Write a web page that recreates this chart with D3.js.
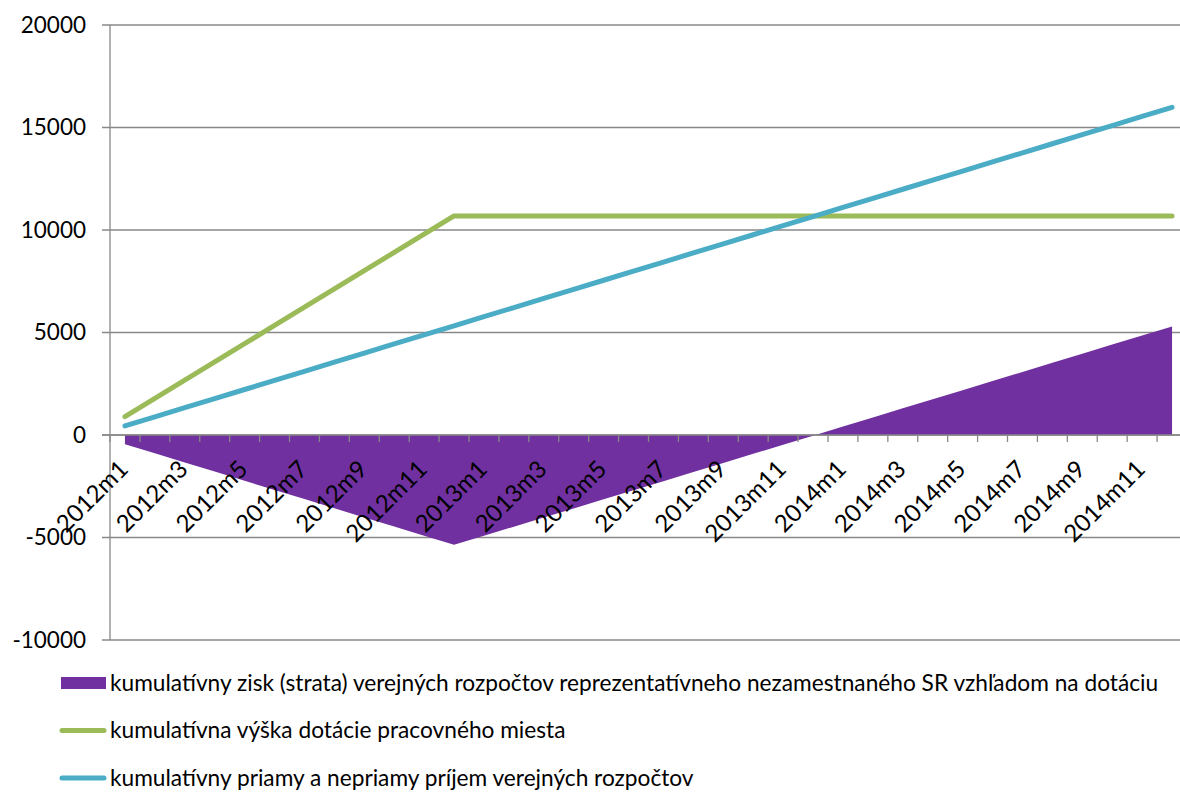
<!DOCTYPE html>
<html>
<head>
<meta charset="utf-8">
<script src="https://cdn.jsdelivr.net/npm/d3@7"></script>
<style>
  body { margin: 0; background: #fff; }
  svg text { font-family: Lato, "Open Sans", sans-serif; fill: #000; }
</style>
</head>
<body>
<div id="chart"></div>
<script>
// months 2012m1 .. 2014m12
var months = [
  "2012m1","2012m2","2012m3","2012m4","2012m5","2012m6","2012m7","2012m8","2012m9","2012m10","2012m11","2012m12",
  "2013m1","2013m2","2013m3","2013m4","2013m5","2013m6","2013m7","2013m8","2013m9","2013m10","2013m11","2013m12",
  "2014m1","2014m2","2014m3","2014m4","2014m5","2014m6","2014m7","2014m8","2014m9","2014m10","2014m11","2014m12"
];

// kumulativny zisk (strata)
var netGain = [
  -447, -893, -1340, -1786, -2233, -2679, -3126, -3573, -4019, -4466, -4912, -5359,
  -4915, -4471, -4027, -3583, -3139, -2695, -2251, -1807, -1363, -919, -475, -31,
  413, 857, 1301, 1745, 2189, 2633, 3077, 3521, 3965, 4409, 4853, 5297
];

// kumulativna vyska dotacie
var subsidy = [
  891, 1781, 2672, 3562, 4453, 5343, 6234, 7125, 8015, 8906, 9796, 10687,
  10687, 10687, 10687, 10687, 10687, 10687, 10687, 10687, 10687, 10687, 10687, 10687,
  10687, 10687, 10687, 10687, 10687, 10687, 10687, 10687, 10687, 10687, 10687, 10687
];

// kumulativny priamy a nepriamy prijem
var income = [
  444, 888, 1332, 1776, 2220, 2664, 3108, 3552, 3996, 4440, 4884, 5328,
  5772, 6216, 6660, 7104, 7548, 7992, 8436, 8880, 9324, 9768, 10212, 10656,
  11100, 11544, 11988, 12432, 12876, 13320, 13764, 14208, 14652, 15096, 15540, 15984
];

var yTicks = [-10000, -5000, 0, 5000, 10000, 15000, 20000];

var legendLabels = [
  "kumulatívny zisk (strata) verejných rozpočtov reprezentatívneho nezamestnaného SR vzhľadom na dotáciu",
  "kumulatívna výška dotácie pracovného miesta",
  "kumulatívny priamy a nepriamy príjem verejných rozpočtov"
];

var colors = ["#7030A0", "#9BBB59", "#4BACC6"];

var w = 1180, h = 792;
var mLeft = 110, mRight = 1187, mTop = 25, mBottom = 640;

var svg = d3.select("#chart").append("svg")
    .attr("width", w)
    .attr("height", h);

var x = d3.scaleBand().domain(months).range([mLeft, mRight]);
var y = d3.scaleLinear().domain([-10000, 20000]).range([mBottom, mTop]);
var cx = function(i) { return x(months[i]) + x.bandwidth() / 2; };

//gridlines + y axis labels
svg.selectAll("line.grid")
    .data(yTicks)
    .enter()
    .append("line")
    .attr("class", "grid")
    .attr("x1", mLeft - 8)
    .attr("x2", w)
    .attr("y1", function(d) { return y(d); })
    .attr("y2", function(d) { return y(d); })
    .style("stroke", "#888")
    .style("stroke-width", 1.3);

svg.selectAll("text.ylab")
    .data(yTicks)
    .enter()
    .append("text")
    .attr("class", "ylab")
    .attr("x", 86)
    .attr("y", function(d) { return y(d); })
    .attr("dy", "0.35em")
    .attr("text-anchor", "end")
    .style("font-size", "22.5px")
    .text(function(d) { return d; });

// area for net gain
var area = d3.area()
    .x(function(d, i) { return cx(i); })
    .y0(y(0))
    .y1(function(d) { return y(d); });

svg.append("path")
    .datum(netGain)
    .attr("d", area)
    .style("fill", colors[0]);

// y axis line
svg.append("line")
    .attr("x1", mLeft).attr("x2", mLeft)
    .attr("y1", mTop).attr("y2", mBottom)
    .style("stroke", "#888")
    .style("stroke-width", 1.3);

// x axis on zero
var xAxis = svg.append("g")
    .attr("transform", "translate(0," + y(0) + ")");

xAxis.append("line")
    .attr("x1", mLeft - 8).attr("x2", w)
    .style("stroke", "#888")
    .style("stroke-width", 1.3);

xAxis.selectAll("line.tick")
    .data(d3.range(months.length + 1))
    .enter()
    .append("line")
    .attr("class", "tick")
    .attr("x1", function(i) { return mLeft + i * x.bandwidth(); })
    .attr("x2", function(i) { return mLeft + i * x.bandwidth(); })
    .attr("y1", 0).attr("y2", 7)
    .style("stroke", "#888")
    .style("stroke-width", 1.3);

xAxis.selectAll("text")
    .data(months.filter(function(m, i) { return i % 2 == 0; }))
    .enter()
    .append("text")
    .attr("transform", function(d) {
        return "translate(" + (x(d) + x.bandwidth() / 2 - 9) + ",22) rotate(-45)";
    })
    .attr("text-anchor", "end")
    .attr("dy", "0.8em")
    .style("font-size", "24px")
    .text(function(d) { return d; });

// lines
var line = d3.line()
    .x(function(d, i) { return cx(i); })
    .y(function(d) { return y(d); });

[subsidy, income].forEach(function(s, k) {
    svg.append("path")
        .datum(s)
        .attr("d", line)
        .style("fill", "none")
        .style("stroke", colors[k + 1])
        .style("stroke-width", 5)
        .style("stroke-linecap", "round")
        .style("stroke-linejoin", "round");
});

// legend
var legend = svg.selectAll("g.legend")
    .data(legendLabels)
    .enter()
    .append("g")
    .attr("class", "legend")
    .attr("transform", function(d, i) { return "translate(0," + (683 + i * 47.5) + ")"; });

legend.each(function(d, i) {
    var g = d3.select(this);
    if (i == 0) {
        g.append("rect")
            .attr("x", 61).attr("y", -6)
            .attr("width", 45).attr("height", 12)
            .style("fill", colors[0]);
    } else {
        g.append("line")
            .attr("x1", 62).attr("x2", 104)
            .style("stroke", colors[i])
            .style("stroke-width", 5)
            .style("stroke-linecap", "round");
    }
    g.append("text")
        .attr("x", 110)
        .attr("dy", "0.35em")
        .style("font-size", "22.7px")
        .text(d);
});
</script>
</body>
</html>
